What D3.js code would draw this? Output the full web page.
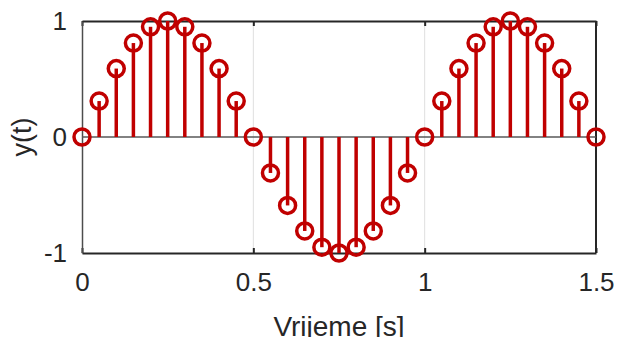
<!DOCTYPE html>
<html lang="en">
<head>
    <meta charset="utf-8">
    <title>stem.html</title>
    <script type="text/javascript" src="https://cdnjs.cloudflare.com/ajax/libs/d3/7.8.5/d3.min.js"></script>
    <style>
        body { margin: 0; background: #fff; }
        text { font-family: "Liberation Sans", Arial, sans-serif; fill: #262626; }
    </style>
</head>
<body>
    <script type="text/javascript">
    //sample times and values
    var tVals = [0, 0.05, 0.1, 0.15, 0.2, 0.25, 0.3, 0.35, 0.4, 0.45,
                 0.5, 0.55, 0.6, 0.65, 0.7, 0.75, 0.8, 0.85, 0.9, 0.95,
                 1, 1.05, 1.1, 1.15, 1.2, 1.25, 1.3, 1.35, 1.4, 1.45, 1.5];
    var yVals = [0, 0.31, 0.59, 0.81, 0.95, 1, 0.95, 0.81, 0.59, 0.31,
                 0, -0.31, -0.59, -0.81, -0.95, -1, -0.95, -0.81, -0.59, -0.31,
                 0, 0.31, 0.59, 0.81, 0.95, 1, 0.95, 0.81, 0.59, 0.31, 0];
    var xTicks = [0, 0.5, 1, 1.5],
        xTickLabels = ["0", "0.5", "1", "1.5"];
    var yTicks = [-1, 0, 1],
        yTickLabels = ["-1", "0", "1"];
    var xLabel = "Vrijeme [s]",
        yLabel = "y(t)";

    //initialize the dimensions
    var width = 617, height = 337,
        margin = {top: 21, right: 21, bottom: 84, left: 82},
        red = "#c00000";

    var xScale = d3.scaleLinear()
                   .domain([0, 1.5])
                   .range([margin.left, width - margin.right]);
    var yScale = d3.scaleLinear()
                   .domain([-1, 1])
                   .range([height - margin.bottom, margin.top]);

    var svg = d3.select("body")
                .append("svg")
                .attr("width", width)
                .attr("height", height);

    //vertical grid lines
    svg.selectAll(".grid")
       .data(xTicks.slice(1, -1))
       .enter()
       .append("line")
       .attr("class", "grid")
       .attr("x1", function(d) { return xScale(d); })
       .attr("x2", function(d) { return xScale(d); })
       .attr("y1", yScale(1))
       .attr("y2", yScale(-1))
       .attr("stroke", "#dfdfdf")
       .attr("stroke-width", 1);

    //bottom axis with inward ticks
    var xAxis = d3.axisBottom(xScale)
                  .tickValues(xTicks)
                  .tickFormat(function(d, i) { return xTickLabels[i]; })
                  .tickSizeInner(-5)
                  .tickSizeOuter(0)
                  .tickPadding(20);
    var gx = svg.append("g")
       .attr("transform", "translate(0," + yScale(-1) + ")")
       .call(xAxis);
    gx.select(".domain").attr("stroke", "#262626").attr("stroke-width", 2);
    gx.selectAll(".tick line").attr("stroke", "#262626").attr("stroke-width", 2);
    gx.selectAll("text").attr("font-size", 26).attr("fill", "#262626")
      .attr("font-family", "Liberation Sans, Arial, sans-serif");

    //top axis mirror (ticks only)
    var xAxisTop = d3.axisTop(xScale)
                     .tickValues(xTicks)
                     .tickFormat("")
                     .tickSizeInner(-5)
                     .tickSizeOuter(0);
    var gxt = svg.append("g")
       .attr("transform", "translate(0," + yScale(1) + ")")
       .call(xAxisTop);
    gxt.select(".domain").attr("stroke", "#262626").attr("stroke-width", 2);
    gxt.selectAll(".tick line").attr("stroke", "#262626").attr("stroke-width", 2);

    //left axis
    var yAxis = d3.axisLeft(yScale)
                  .tickValues(yTicks)
                  .tickFormat(function(d, i) { return yTickLabels[i]; })
                  .tickSizeInner(0)
                  .tickSizeOuter(0)
                  .tickPadding(15);
    var gy = svg.append("g")
       .attr("transform", "translate(" + xScale(0) + ",0)")
       .call(yAxis);
    gy.select(".domain").attr("stroke", "#4d4d4d").attr("stroke-width", 1.5);
    gy.selectAll("text").attr("font-size", 26).attr("fill", "#262626")
      .attr("font-family", "Liberation Sans, Arial, sans-serif");

    //right border
    svg.append("line")
       .attr("x1", xScale(1.5))
       .attr("x2", xScale(1.5))
       .attr("y1", yScale(1))
       .attr("y2", yScale(-1))
       .attr("stroke", "#262626")
       .attr("stroke-width", 2);

    //stem baseline
    svg.append("line")
       .attr("x1", xScale(0))
       .attr("x2", xScale(1.5))
       .attr("y1", yScale(0))
       .attr("y2", yScale(0))
       .attr("stroke", "#595959")
       .attr("stroke-width", 1.5);

    var pts = tVals.map(function(t, i) { return {t: t, y: yVals[i]}; });

    //stems
    svg.selectAll(".stem")
       .data(pts)
       .enter()
       .append("line")
       .attr("class", "stem")
       .attr("x1", function(d) { return xScale(d.t); })
       .attr("x2", function(d) { return xScale(d.t); })
       .attr("y1", yScale(0))
       .attr("y2", function(d) { return yScale(d.y); })
       .attr("stroke", red)
       .attr("stroke-width", 3.5);

    //hollow markers
    svg.selectAll(".marker")
       .data(pts)
       .enter()
       .append("circle")
       .attr("class", "marker")
       .attr("cx", function(d) { return xScale(d.t); })
       .attr("cy", function(d) { return yScale(d.y); })
       .attr("r", 8)
       .attr("fill", "none")
       .attr("stroke", red)
       .attr("stroke-width", 3.5);

    //axis labels
    svg.append("text")
       .attr("x", (xScale(0) + xScale(1.5)) / 2)
       .attr("y", 336)
       .attr("text-anchor", "middle")
       .attr("font-size", 28)
       .text(xLabel);

    svg.append("text")
       .attr("transform", "translate(31," + yScale(0) + ") rotate(-90)")
       .attr("text-anchor", "middle")
       .attr("font-size", 27)
       .text(yLabel);
    </script>
</body>
</html>
